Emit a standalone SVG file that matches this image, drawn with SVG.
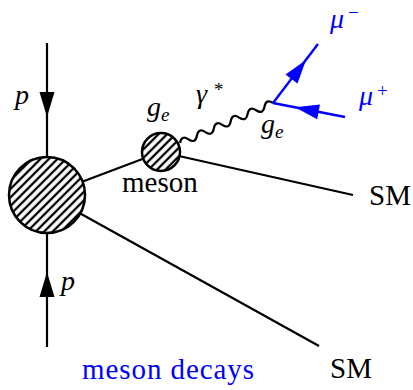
<svg xmlns="http://www.w3.org/2000/svg" width="413" height="390" viewBox="0 0 413 390">
<defs>
<pattern id="hatch" width="6" height="6" patternUnits="userSpaceOnUse" patternTransform="rotate(-45)">
<rect width="6" height="6" fill="#fff"/>
<line x1="0" y1="3" x2="6" y2="3" stroke="#000" stroke-width="2.3"/>
</pattern>
<style>
.ln{stroke:#000;stroke-width:2.2;fill:none}
.bl{stroke:#0000ff;stroke-width:2.4;fill:none}
.blob{fill:url(#hatch);stroke:#000;stroke-width:2.5}
text{font-family:"Liberation Serif","Times New Roman",serif}
.rm{font-size:29px}
.it{font-style:italic;font-size:28px}
.sub{font-style:italic;font-size:19px}
.sup{font-size:19px}
.k{fill:#000}
.b{fill:#0000ff}
</style>
</defs>
<g id="connectors">
<line class="ln" x1="47" y1="43" x2="47" y2="160"/>
<polygon points="39.5,92 54.5,92 47,117" fill="#000"/>
<line class="ln" x1="47" y1="230" x2="47" y2="347"/>
<polygon points="39.5,297 54.5,297 47,272" fill="#000"/>
<line class="ln" x1="47" y1="195" x2="161" y2="152"/>
<line class="ln" x1="47" y1="195" x2="319" y2="346"/>
<line class="ln" x1="161" y1="152" x2="353" y2="195"/>
<path class="ln" transform="translate(180,143) rotate(-23.27)" d="M0,0 q4.6,-7 9.2,0 t9.2,0 t9.2,0 t9.2,0 t9.2,0 t9.2,0 t9.2,0 t9.2,0 t9.2,0 t9.2,0 t9.2,0"/>
<line class="bl" x1="273" y1="103" x2="318" y2="44"/>
<polygon points="306,60 297.5,83.6 285.5,74.6" fill="#0000ff"/>
<line class="bl" x1="345" y1="117" x2="273" y2="103"/>
<polygon points="295,107.3 320,104.5 317.2,119.3" fill="#0000ff"/>
</g>
<g id="proton-blob">
<circle class="blob" cx="47" cy="195" r="38"/>
</g>
<g id="meson-blob">
<circle class="blob" cx="161" cy="152" r="19"/>
</g>
<g id="labels">
<text class="it k" x="15" y="104">p</text>
<text class="it k" x="61" y="290">p</text>
<text class="it k" x="147" y="116">g</text><text class="sub k" x="161" y="121">e</text>
<text class="it k" x="196" y="103">γ</text><text class="sup k" x="214" y="96">*</text>
<text class="it k" x="261" y="133">g</text><text class="sub k" x="275" y="138">e</text>
<text class="it b" x="330" y="28">μ</text><text class="sup b" x="348" y="19">−</text>
<text class="it b" x="359" y="105">μ</text><text class="sup b" x="377" y="97">+</text>
<text class="rm k" x="122" y="192">meson</text>
<text class="rm k" x="369" y="205">SM</text>
<text class="rm k" x="330" y="378">SM</text>
<text class="rm b" x="82" y="379" textLength="172">meson decays</text>
</g>
</svg>
